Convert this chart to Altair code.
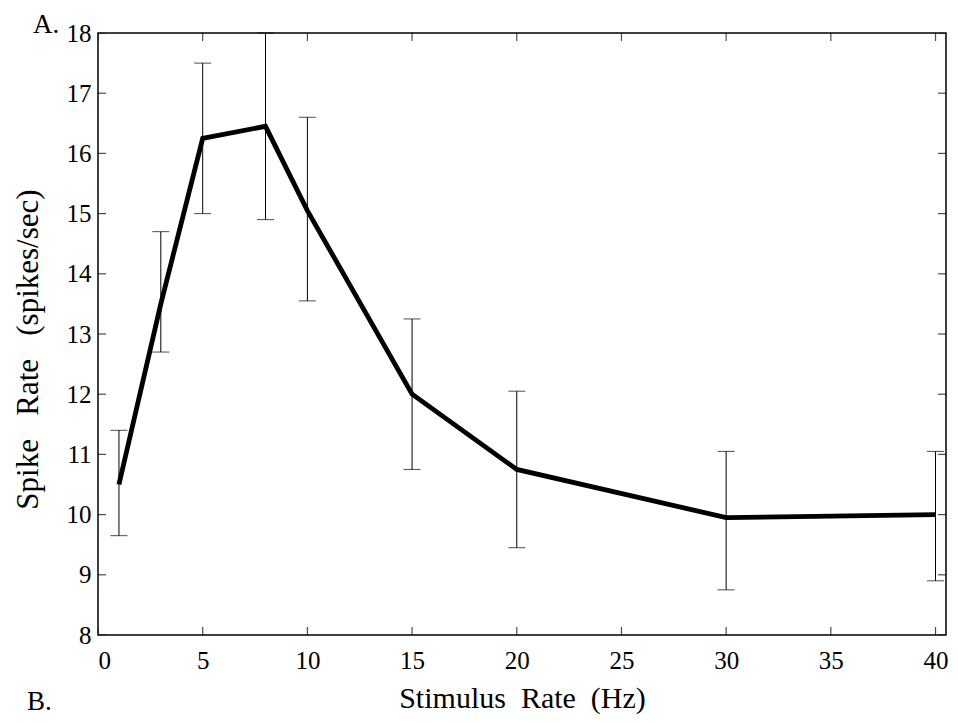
import altair as alt
import pandas as pd

# ---- data ----
rate_hz = [1, 3, 5, 8, 10, 15, 20, 30, 40]
spike_mean = [10.5, 13.5, 16.25, 16.45, 15.05, 12.0, 10.75, 9.95, 10.0]
spike_upper = [11.4, 14.7, 17.5, 18.0, 16.6, 13.25, 12.05, 11.05, 11.05]
spike_lower = [9.65, 12.7, 15.0, 14.9, 13.55, 10.75, 9.45, 8.75, 8.9]

x_ticks = [0, 5, 10, 15, 20, 25, 30, 35, 40]
y_ticks = [8, 9, 10, 11, 12, 13, 14, 15, 16, 17, 18]
X_DOMAIN = [0, 40.5]
Y_DOMAIN = [8, 18]

FONT = "Liberation Serif"
GAP2 = "\u00a0 "
GAP3 = "\u00a0\u00a0 "

df = pd.DataFrame({"rate": rate_hz, "spike": spike_mean,
                   "upper": spike_upper, "lower": spike_lower})

xs = alt.Scale(domain=X_DOMAIN, nice=False, zero=False)
ys = alt.Scale(domain=Y_DOMAIN, nice=False, zero=False)

AXIS_STYLE = dict(labelFont=FONT, labelFontSize=25, labelColor="black",
                  titleFont=FONT, titleFontWeight="normal",
                  titleColor="black", ticks=False, domain=False, grid=False)

X_AXIS = alt.Axis(values=x_ticks, title=f"Stimulus{GAP2}Rate{GAP2}(Hz)",
                  titleFontSize=30, labelPadding=13, titlePadding=10, **AXIS_STYLE)
Y_AXIS = alt.Axis(values=y_ticks, title=f"Spike{GAP3}Rate{GAP3}(spikes/sec)",
                  titleFontSize=31, labelPadding=7, titlePadding=22, titleY=316,
                  **AXIS_STYLE)


def X(field):
    return alt.X(f"{field}:Q", scale=xs, axis=X_AXIS)


def Y(field):
    return alt.Y(f"{field}:Q", scale=ys, axis=Y_AXIS)


base = alt.Chart(df)

line = base.mark_line(color="black", strokeWidth=4.8).encode(x=X("rate"), y=Y("spike"))
bars = base.mark_rule(color="black", strokeWidth=1).encode(
    x=X("rate"), y=Y("lower"), y2="upper:Q")
cap_u = base.mark_tick(orient="horizontal", size=17, thickness=1, color="black").encode(
    x=X("rate"), y=Y("upper"))
cap_l = base.mark_tick(orient="horizontal", size=17, thickness=1, color="black").encode(
    x=X("rate"), y=Y("lower"))

# inward tick marks on all four sides (half of each tick is clipped away)
xt_bottom = pd.DataFrame({"rate": x_ticks, "spike": [Y_DOMAIN[0]] * len(x_ticks)})
xt_top = pd.DataFrame({"rate": x_ticks, "spike": [Y_DOMAIN[1]] * len(x_ticks)})
yt_left = pd.DataFrame({"rate": [X_DOMAIN[0]] * len(y_ticks), "spike": y_ticks})
yt_right = pd.DataFrame({"rate": [X_DOMAIN[1]] * len(y_ticks), "spike": y_ticks})

tick_layers = []
for d, orient in [(xt_bottom, "vertical"), (xt_top, "vertical"),
                  (yt_left, "horizontal"), (yt_right, "horizontal")]:
    tick_layers.append(
        alt.Chart(d).mark_tick(orient=orient, size=16, thickness=1.2,
                               color="black", clip=True)
        .encode(x=X("rate"), y=Y("spike"))
    )

label_a = alt.Chart(pd.DataFrame({"txt": ["A."]})).mark_text(
    font=FONT, fontSize=27, align="left", baseline="alphabetic", color="black"
).encode(text="txt:N", x=alt.value(-65), y=alt.value(0))
label_b = alt.Chart(pd.DataFrame({"txt": ["B."]})).mark_text(
    font=FONT, fontSize=27, align="left", baseline="alphabetic", color="black"
).encode(text="txt:N", x=alt.value(-71), y=alt.value(677))

chart = alt.layer(line, bars, cap_u, cap_l, *tick_layers, label_a, label_b).properties(
    width=848, height=602,
    autosize=alt.AutoSizeParams(type="none"),
    padding={"left": 90, "top": 25, "right": 4, "bottom": 80},
    background="white",
).configure_view(
    stroke="black", strokeWidth=1.5
)

chart.save("out.html", embed_options={"renderer": "svg", "actions": False})
